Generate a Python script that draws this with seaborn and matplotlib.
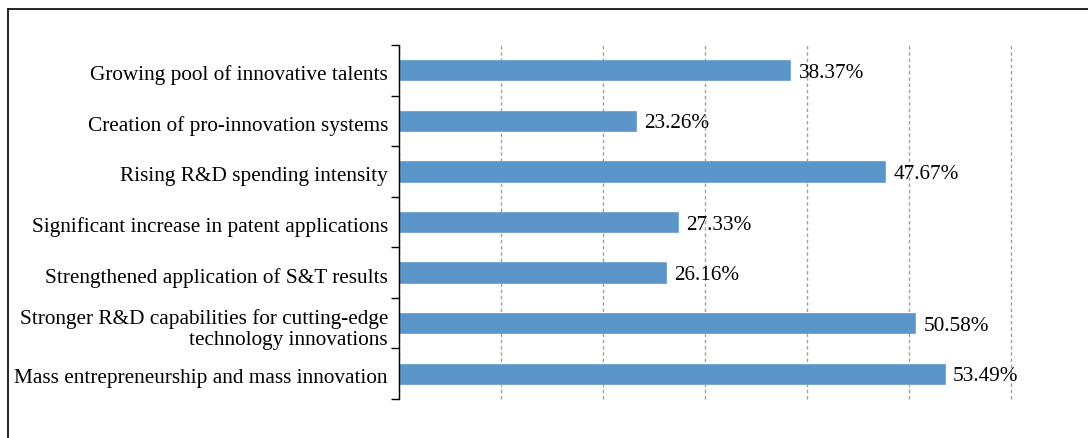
import matplotlib
matplotlib.use("Agg")
import matplotlib.pyplot as plt
import matplotlib.transforms as mtransforms
from matplotlib.lines import Line2D
from matplotlib.ticker import MultipleLocator, FixedLocator
import seaborn as sns
import pandas as pd

categories = [
    "Growing pool of innovative talents",
    "Creation of pro-innovation systems",
    "Rising R&D spending intensity",
    "Significant increase in patent applications",
    "Strengthened application of S&T results",
    "Stronger R&D capabilities for cutting-edge\ntechnology innovations",
    "Mass entrepreneurship and mass innovation",
]
shares = [38.37, 23.26, 47.67, 27.33, 26.16, 50.58, 53.49]

sns.set_style("white")
plt.rcParams["font.family"] = ["Liberation Serif", "DejaVu Serif"]
plt.rcParams["text.color"] = "black"
plt.rcParams["ytick.color"] = "black"
plt.rcParams["ytick.labelcolor"] = "black"

df = pd.DataFrame({"item": categories, "share": shares})

fig = plt.figure(figsize=(10.88, 4.39), dpi=100)
ax = fig.add_axes([399 / 1088, 1 - 400 / 439, (1011 - 399) / 1088, (400 - 46) / 439])

sns.barplot(data=df, y="item", x="share", orient="h", color="#5B95C9",
            saturation=1, width=0.4, ax=ax, edgecolor="#6FA3D3", linewidth=0.6)

ax.set_xlim(0, 60)
ax.set_ylim(len(categories) - 0.5, -0.5)
ax.xaxis.set_major_locator(MultipleLocator(10))
ax.grid(axis="x", color="#A0A0A0", linestyle=(0, (2.5, 2)), linewidth=1.0)
for gl in ax.get_xgridlines():
    gl.set_clip_on(False)
ax.set_axisbelow(True)

for s in ["top", "right", "bottom"]:
    ax.spines[s].set_visible(False)
ax.spines["left"].set_color("black")
ax.spines["left"].set_linewidth(1.0)

ax.set_xlabel("")
ax.set_ylabel("")
ax.tick_params(axis="x", bottom=False, labelbottom=False)
ax.tick_params(axis="y", which="major", length=0, pad=8, labelsize=15.3,
               labelcolor="black")
ax.yaxis.set_minor_locator(FixedLocator([i - 0.5 for i in range(len(categories) + 1)]))
ax.tick_params(axis="y", which="minor", length=6, width=1.0, color="black", left=True)

# nudge category labels slightly downward
shift = mtransforms.ScaledTranslation(0, -1.5 / 100, fig.dpi_scale_trans)
for lbl in ax.get_yticklabels():
    lbl.set_transform(lbl.get_transform() + shift)

for i, v in enumerate(shares):
    ax.annotate(f"{v:.2f}%", xy=(v, i), xytext=(6, -1.5), textcoords="offset points",
                ha="left", va="center", fontsize=15.3, color="black")

# outer frame of the figure
fig.add_artist(Line2D([8 / 1088, 8 / 1088], [0, 1 - 10 / 439], color="black", lw=1.2,
                      transform=fig.transFigure))
fig.add_artist(Line2D([8 / 1088, 1], [1 - 10 / 439, 1 - 10 / 439], color="black", lw=1.2,
                      transform=fig.transFigure))

fig.savefig("out.png", dpi=100, facecolor="white")
